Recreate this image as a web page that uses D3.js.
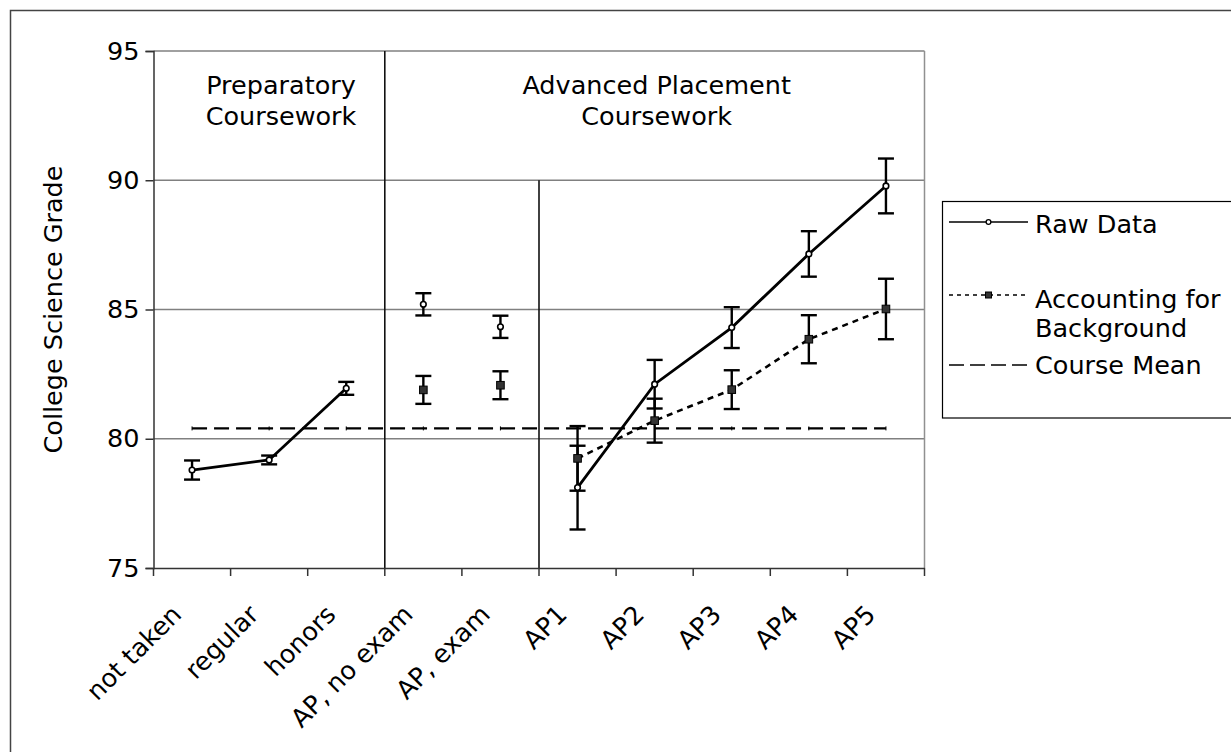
<!DOCTYPE html>
<html>
<head>
<meta charset="utf-8">
<script src="https://cdn.jsdelivr.net/npm/d3@7"></script>
<style>
  body { margin: 0; background: #fff; }
  text { font-family: "DejaVu Sans", Verdana, sans-serif; fill: #000; }
</style>
</head>
<body>
<script>
// categories on the x axis
var categories = ['not taken', 'regular', 'honors', 'AP, no exam', 'AP, exam', 'AP1', 'AP2', 'AP3', 'AP4', 'AP5'];
// raw data: mean and +/- error
var rawMean = [78.79, 79.18, 81.95, 85.20, 84.33, 78.11, 82.11, 84.30, 87.15, 89.78];
var rawErr  = [0.37, 0.17, 0.25, 0.43, 0.43, 1.62, 0.94, 0.79, 0.88, 1.06];
// accounting for background (nothing for the first three)
var adjMean = [null, null, null, 81.89, 82.07, 79.24, 80.70, 81.90, 83.85, 85.02];
var adjErr  = [null, null, null, 0.54, 0.54, 1.25, 0.85, 0.75, 0.93, 1.17];
var courseMean = 80.4;
// which points are joined by lines
var rawSegments = [['not taken', 'regular', 'honors'], ['AP1', 'AP2', 'AP3', 'AP4', 'AP5']];
var adjSegments = [['AP1', 'AP2', 'AP3', 'AP4', 'AP5']];
var yTicks = [75, 80, 85, 90, 95];
var legendLabels = [['Raw Data'], ['Accounting for', 'Background'], ['Course Mean']];

var W = 1231, H = 752;
var FS = '25.5px';
var plot = {left: 153.5, right: 924.5, top: 51, bottom: 568};

var svg = d3.select('body').append('svg').attr('width', W).attr('height', H);

// outer chart border (runs off the right/bottom edge)
svg.append('rect').attr('x', 10.5).attr('y', 10.5).attr('width', 1250).attr('height', 780)
  .attr('fill', 'none').attr('stroke', '#444').attr('stroke-width', 1.5);

var x = d3.scaleBand().domain(categories).range([plot.left, plot.right]).padding(0);
var y = d3.scaleLinear().domain([75, 95]).range([plot.bottom, plot.top]);
var cx = function(c) { return x(c) + x.bandwidth() / 2; };

// gridlines
svg.append('g').selectAll('line').data([80, 85, 90, 95]).enter().append('line')
  .attr('x1', plot.left).attr('x2', plot.right)
  .attr('y1', function(d) { return y(d); }).attr('y2', function(d) { return y(d); })
  .attr('stroke', '#808080').attr('stroke-width', 1.5);
svg.append('line').attr('x1', plot.right).attr('x2', plot.right).attr('y1', plot.top).attr('y2', plot.bottom)
  .attr('stroke', '#909090').attr('stroke-width', 1.5);

// section dividers
svg.append('line').attr('x1', x('AP, no exam')).attr('x2', x('AP, no exam'))
  .attr('y1', y(95)).attr('y2', y(75)).attr('stroke', '#111').attr('stroke-width', 1.6);
svg.append('line').attr('x1', x('AP1')).attr('x2', x('AP1'))
  .attr('y1', y(90)).attr('y2', y(75)).attr('stroke', '#111').attr('stroke-width', 1.6);

// section titles
var titles = [
  {lines: ['Preparatory', 'Coursework'], x: 281},
  {lines: ['Advanced Placement', 'Coursework'], x: (x('AP, no exam') + plot.right) / 2 + 2}
];
titles.forEach(function(t) {
  t.lines.forEach(function(s, i) {
    svg.append('text').attr('x', t.x).attr('y', 94 + i * 31).attr('text-anchor', 'middle')
      .style('font-size', FS).text(s);
  });
});

// y axis
var yAxis = svg.append('g').attr('transform', 'translate(' + plot.left + ',0)')
  .call(d3.axisLeft(y).tickValues(yTicks).tickSize(8).tickPadding(6));
yAxis.selectAll('text').style('font-size', FS).style('font-family', '"DejaVu Sans", sans-serif');
yAxis.selectAll('line, path').attr('stroke', '#333').attr('stroke-width', 1.5);

// x axis: labels from the band scale, ticks on the band edges
var xAxis = svg.append('g').attr('transform', 'translate(0,' + plot.bottom + ')')
  .call(d3.axisBottom(x).tickSize(0).tickSizeOuter(0));
xAxis.select('path').attr('stroke', '#333').attr('stroke-width', 1.5);
xAxis.selectAll('text')
  .attr('x', 0).attr('y', 0).attr('dy', 0)
  .attr('text-anchor', 'end')
  .attr('transform', 'translate(-9,48) rotate(-45)')
  .style('font-size', FS).style('font-family', '"DejaVu Sans", sans-serif');
var edges = categories.map(function(c) { return x(c); }).concat([plot.right]);
svg.append('g').selectAll('line').data(edges).enter().append('line')
  .attr('x1', function(d) { return d; }).attr('x2', function(d) { return d; })
  .attr('y1', plot.bottom).attr('y2', plot.bottom + 8)
  .attr('stroke', '#333').attr('stroke-width', 1.5);

// y axis title
svg.append('text').attr('transform', 'translate(62,' + ((plot.top + plot.bottom) / 2) + ') rotate(-90)')
  .attr('text-anchor', 'middle').style('font-size', FS).text('College Science Grade');

// course mean
svg.append('line').attr('x1', cx(categories[0])).attr('x2', cx(categories[categories.length - 1]))
  .attr('y1', y(courseMean)).attr('y2', y(courseMean))
  .attr('stroke', '#000').attr('stroke-width', 2.2).attr('stroke-dasharray', '15,7');
svg.append('g').selectAll('line').data(categories).enter().append('line')
  .attr('x1', cx).attr('x2', cx)
  .attr('y1', y(courseMean) - 2).attr('y2', y(courseMean) + 2)
  .attr('stroke', '#000').attr('stroke-width', 1);

var idx = function(c) { return categories.indexOf(c); };

// lines
var rawLine = d3.line().x(function(c) { return cx(c); }).y(function(c) { return y(rawMean[idx(c)]); });
var adjLine = d3.line().x(function(c) { return cx(c); }).y(function(c) { return y(adjMean[idx(c)]); });
svg.append('g').selectAll('path').data(rawSegments).enter().append('path')
  .attr('d', rawLine).attr('fill', 'none').attr('stroke', '#000').attr('stroke-width', 2.8);
svg.append('g').selectAll('path').data(adjSegments).enter().append('path')
  .attr('d', adjLine).attr('fill', 'none').attr('stroke', '#000').attr('stroke-width', 2.6)
  .attr('stroke-dasharray', '6,5');

// error bars
function errorBars(means, errs) {
  var g = svg.append('g').attr('stroke', '#000').attr('stroke-width', 2.4);
  categories.forEach(function(c, i) {
    if (means[i] == null) return;
    var px = cx(c), lo = y(means[i] - errs[i]), hi = y(means[i] + errs[i]);
    g.append('line').attr('x1', px).attr('x2', px).attr('y1', lo).attr('y2', hi);
    g.append('line').attr('x1', px - 8).attr('x2', px + 8).attr('y1', lo).attr('y2', lo);
    g.append('line').attr('x1', px - 8).attr('x2', px + 8).attr('y1', hi).attr('y2', hi);
  });
}
errorBars(rawMean, rawErr);
errorBars(adjMean, adjErr);

// markers
svg.append('g').selectAll('rect').data(categories.filter(function(c) { return adjMean[idx(c)] != null; }))
  .enter().append('rect')
  .attr('x', function(c) { return cx(c) - 3.8; })
  .attr('y', function(c) { return y(adjMean[idx(c)]) - 3.8; })
  .attr('width', 7.6).attr('height', 7.6)
  .attr('fill', '#333').attr('stroke', '#000').attr('stroke-width', 1);
svg.append('g').selectAll('circle').data(categories).enter().append('circle')
  .attr('cx', cx).attr('cy', function(c) { return y(rawMean[idx(c)]); })
  .attr('r', 2.8).attr('fill', '#fff').attr('stroke', '#000').attr('stroke-width', 1.6);

// legend
var lg = svg.append('g');
lg.append('rect').attr('x', 942.5).attr('y', 201.5).attr('width', 320).attr('height', 216.5)
  .attr('fill', '#fff').attr('stroke', '#000').attr('stroke-width', 1.2);
var sx1 = 949, sx2 = 1028, sm = (sx1 + sx2) / 2, tx = 1035;
var rows = [{y: 222, base: 233}, {y: 295, base: 308}, {y: 365, base: 374}];
lg.append('line').attr('x1', sx1).attr('x2', sx2).attr('y1', rows[0].y).attr('y2', rows[0].y)
  .attr('stroke', '#000').attr('stroke-width', 1.6);
lg.append('circle').attr('cx', sm).attr('cy', rows[0].y).attr('r', 2.4)
  .attr('fill', '#fff').attr('stroke', '#000').attr('stroke-width', 1.3);
lg.append('line').attr('x1', sx1).attr('x2', sx2).attr('y1', rows[1].y).attr('y2', rows[1].y)
  .attr('stroke', '#000').attr('stroke-width', 1.6).attr('stroke-dasharray', '4,4');
lg.append('rect').attr('x', sm - 3).attr('y', rows[1].y - 3).attr('width', 6).attr('height', 6)
  .attr('fill', '#333').attr('stroke', '#000').attr('stroke-width', 1);
lg.append('line').attr('x1', sx1).attr('x2', sx2).attr('y1', rows[2].y).attr('y2', rows[2].y)
  .attr('stroke', '#000').attr('stroke-width', 1.6).attr('stroke-dasharray', '15,6');
legendLabels.forEach(function(lines, i) {
  lines.forEach(function(s, j) {
    lg.append('text').attr('x', tx).attr('y', rows[i].base + j * 29)
      .style('font-size', FS).text(s);
  });
});
</script>
</body>
</html>
